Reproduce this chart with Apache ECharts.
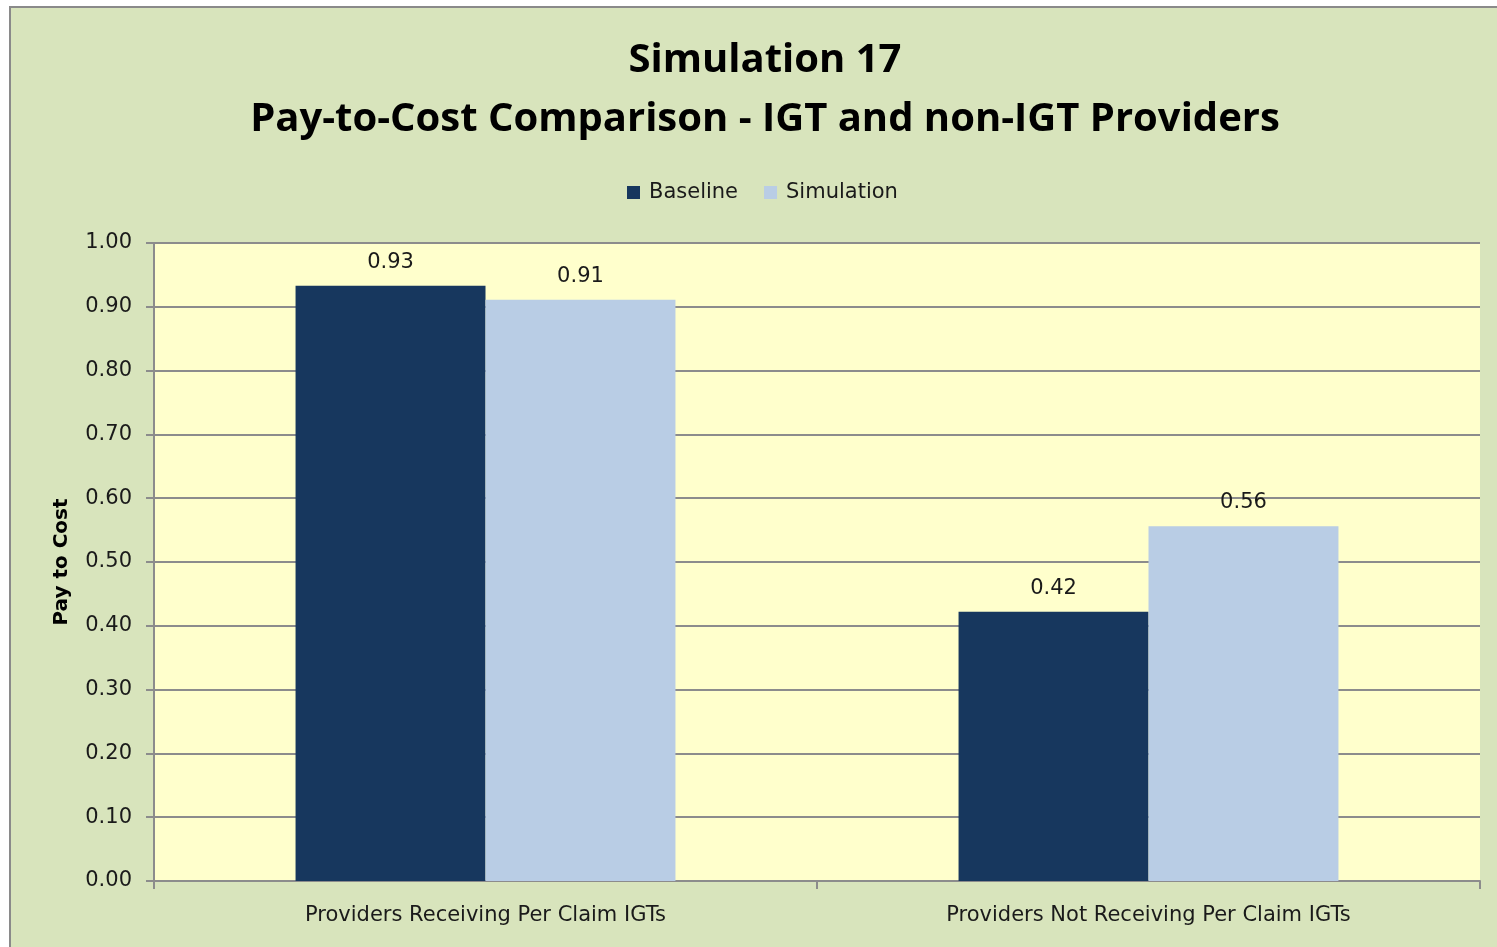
<!DOCTYPE html>
<html>
<head>
<meta charset="utf-8">
<script src="https://cdn.jsdelivr.net/npm/echarts@6/dist/echarts.min.js"></script>
<style>
  html, body { margin: 0; padding: 0; background: #ffffff; }
  #frame {
    position: absolute; left: 9px; top: 6px; width: 1500px; height: 960px;
    background: #d8e4bc; border-left: 2px solid #8a8a8a; border-top: 2px solid #8a8a8a;
  }
  #chart { position: absolute; left: 0; top: 0; width: 1497px; height: 947px; }
</style>
</head>
<body>
<div id="frame"></div>
<div id="chart"></div>
<script>
const categories = ['Providers Receiving Per Claim IGTs', 'Providers Not Receiving Per Claim IGTs'];
const baseline = [0.933, 0.422];
const simulation = [0.911, 0.556];
const seriesNames = ['Baseline', 'Simulation'];

const fontFamily = '"DejaVu Sans", sans-serif';
const titleFont = '"Open Sans", "Noto Sans", sans-serif';
const textColor = '#1a1a1a';
const lineColor = '#8c8c8c';

const chart = echarts.init(document.getElementById('chart'));
chart.setOption({
  backgroundColor: 'transparent',
  textStyle: { fontFamily: fontFamily },
  title: {
    text: 'Simulation 17\nPay-to-Cost Comparison - IGT and non-IGT Providers',
    left: 760,
    textAlign: 'center',
    top: 26,
    textStyle: {
      fontFamily: titleFont,
      fontSize: 40,
      fontWeight: 'bold',
      color: '#000',
      lineHeight: 59,
    },
  },
  legend: {
    data: seriesNames,
    left: 622,
    top: 177,
    itemWidth: 13,
    itemHeight: 13,
    itemGap: 26,
    icon: 'rect',
    textStyle: { fontFamily: fontFamily, fontSize: 21, color: textColor, padding: [0, 0, 0, 4] },
  },
  grid: {
    left: 154,
    right: 17,
    top: 243,
    bottom: 66,
    show: true,
    backgroundColor: '#ffffcc',
    borderWidth: 0,
  },
  xAxis: {
    type: 'category',
    data: categories,
    axisLine: { show: true, lineStyle: { color: lineColor, width: 2 } },
    axisTick: { show: true, length: 8, lineStyle: { color: lineColor, width: 2 } },
    axisLabel: { fontFamily: fontFamily, fontSize: 21, color: textColor, margin: 24 },
  },
  yAxis: {
    type: 'value',
    min: 0,
    max: 1,
    interval: 0.1,
    name: 'Pay to Cost',
    nameLocation: 'middle',
    nameGap: 82,
    nameTextStyle: { fontFamily: fontFamily, fontSize: 20, fontWeight: 'bold', color: '#000' },
    axisLine: { show: true, lineStyle: { color: lineColor, width: 2 } },
    axisTick: { show: true, length: 8, lineStyle: { color: lineColor, width: 2 } },
    axisLabel: {
      fontFamily: fontFamily, fontSize: 21, color: textColor, margin: 22,
      formatter: v => v.toFixed(2),
    },
    splitLine: { show: true, lineStyle: { color: lineColor, width: 2 } },
  },
  series: [
    {
      name: seriesNames[0],
      type: 'bar',
      data: baseline,
      barGap: '0%',
      barCategoryGap: '42.7%',
      itemStyle: { color: '#17375e' },
      label: {
        show: true, position: 'top', distance: 13,
        fontFamily: fontFamily, fontSize: 21, color: textColor,
        formatter: p => p.value.toFixed(2),
      },
    },
    {
      name: seriesNames[1],
      type: 'bar',
      data: simulation,
      itemStyle: { color: '#b9cde5' },
      label: {
        show: true, position: 'top', distance: 13,
        fontFamily: fontFamily, fontSize: 21, color: textColor,
        formatter: p => p.value.toFixed(2),
      },
    },
  ],
});
</script>
</body>
</html>
